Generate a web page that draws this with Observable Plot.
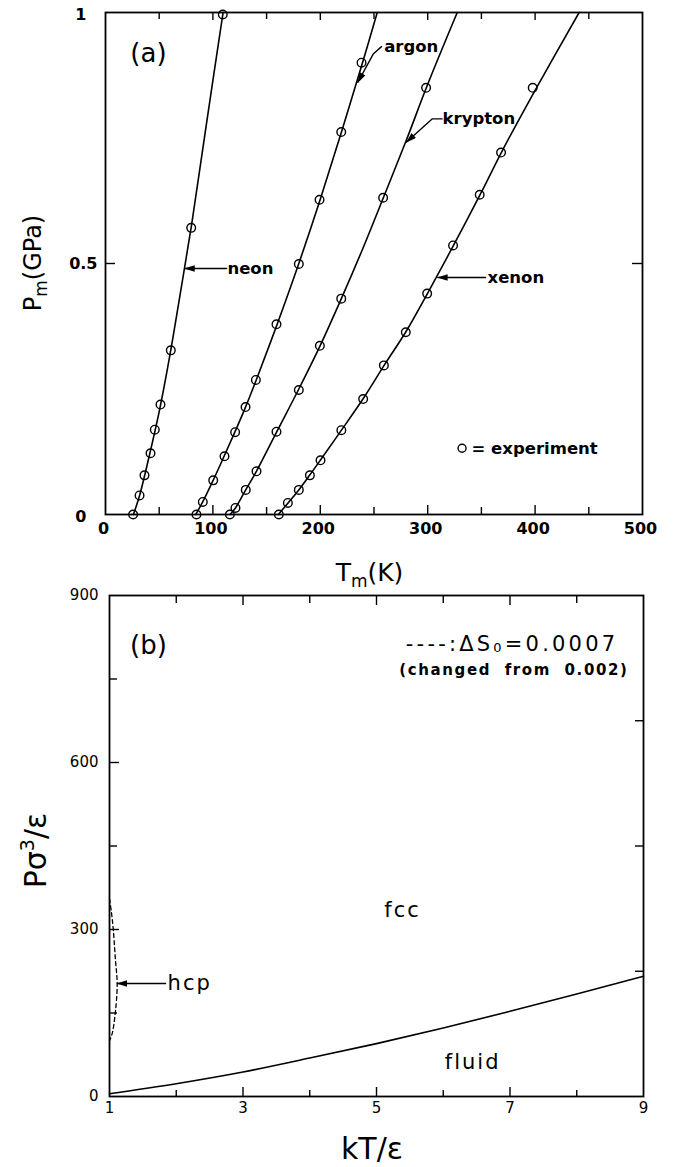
<!DOCTYPE html>
<html><head><meta charset="utf-8">
<script src="https://cdn.jsdelivr.net/npm/d3@7"></script>
<script src="https://cdn.jsdelivr.net/npm/@observablehq/plot@0.6"></script>
<style>
body{margin:0;background:#fff;}
#chart svg{display:block;}
</style></head><body><div id="chart"></div>
<script>
// ---------- Panel (a): melting curves P_m vs T_m ----------
const tTickLabels = [0, 100, 200, 300, 400, 500];
const tTicksMajor = [100, 200, 300, 400];
const tTicksMinor = [50, 150, 250, 350, 450];
const pTickLabelsEdge = [0, 1];
const pTickLabelsMid = [0.5];

// experiment (circles)
const neonExpT = [25.7, 31.7, 36.3, 41.9, 45.9, 51.2, 60.8, 79.8, 109.2];
const neonExpP = [0, 0.038, 0.078, 0.122, 0.169, 0.219, 0.327, 0.571, 0.996];
const argonExpT = [84.7, 90.6, 100.3, 110.8, 120.7, 130.4, 140, 159.2, 180, 199.3, 219.5, 238.4];
const argonExpP = [0, 0.025, 0.068, 0.116, 0.164, 0.214, 0.268, 0.379, 0.499, 0.627, 0.762, 0.900];
const kryptonExpT = [115.8, 121, 130.6, 140.6, 159.2, 180, 199.6, 219.5, 258.5, 298.5];
const kryptonExpP = [0, 0.013, 0.049, 0.086, 0.165, 0.248, 0.336, 0.430, 0.631, 0.850];
const xenonExpT = [161.4, 169.8, 180, 190.3, 200.2, 219.6, 239.9, 259.2, 279.6, 299.5, 323.6, 348.4, 368.3, 397.8];
const xenonExpP = [0, 0.023, 0.049, 0.078, 0.108, 0.168, 0.230, 0.297, 0.363, 0.440, 0.536, 0.637, 0.721, 0.850];

// theory (lines)
const neonLineT = [26, 32, 40, 50, 60, 70, 80, 90, 100, 109.5];
const neonLineP = [0, 0.04, 0.11, 0.205, 0.318, 0.445, 0.575, 0.72, 0.865, 1.0];
const argonLineT = [84, 90, 100, 110, 120, 130, 140, 160, 180, 200, 220, 240, 253];
const argonLineP = [0, 0.023, 0.067, 0.114, 0.162, 0.212, 0.266, 0.38, 0.5, 0.628, 0.764, 0.905, 1.0];
const kryptonLineT = [116, 121, 130, 140, 160, 180, 200, 220, 240, 260, 280, 300, 327.5];
const kryptonLineP = [0, 0.013, 0.047, 0.084, 0.167, 0.25, 0.337, 0.432, 0.532, 0.638, 0.745, 0.857, 1.0];
const xenonLineT = [161, 170, 180, 190, 200, 220, 240, 260, 280, 300, 325, 350, 370, 400, 441];
const xenonLineP = [0, 0.023, 0.049, 0.078, 0.108, 0.169, 0.231, 0.299, 0.365, 0.441, 0.54, 0.642, 0.727, 0.845, 1.0];

// ---------- Panel (b): phase diagram ----------
const kTickLabels = [1, 3, 5, 7, 9];
const kTicksMajor = [3, 5, 7];
const kTicksMinor = [2, 4, 6, 8];
const yTickLabelsB = [0, 300, 600, 900];
const yTicksMajorB = [300, 600];
const yTicksMinorB = [150, 450, 750];
const yTicksRightB = [225, 450, 675];

const fluidKT = [1, 2, 3, 4, 5, 6, 7, 8, 9];
const fluidP = [5, 23, 44, 69, 95, 123, 153, 184, 216];
const hcpKT = [1.0, 1.03, 1.055, 1.09, 1.115, 1.09, 1.04, 1.0];
const hcpP = [355, 330, 302, 244, 203, 154, 113, 100];

// ---------- helpers ----------
const fam = "DejaVu Sans";
const W = 675;
const rows = (name, T, P) => T.map((t, i) => ({name, T: t, P: P[i]}));

const expRows = [
  ...rows("neon", neonExpT, neonExpP), ...rows("argon", argonExpT, argonExpP),
  ...rows("krypton", kryptonExpT, kryptonExpP), ...rows("xenon", xenonExpT, xenonExpP)];
const lineRows = [
  ...rows("neon", neonLineT, neonLineP), ...rows("argon", argonLineT, argonLineP),
  ...rows("krypton", kryptonLineT, kryptonLineP), ...rows("xenon", xenonLineT, xenonLineP)];

// annotation arrows (data coordinates)
const arrowRowsA = [
  ...rows("neon", [112.7, 74], [0.49, 0.49]),
  ...rows("argon", [257, 249.5, 235], [0.932, 0.918, 0.861]),
  ...rows("krypton", [313.4, 304.1, 280.3], [0.788, 0.788, 0.742]),
  ...rows("xenon", [353.8, 309.5], [0.472, 0.472])];
const labelRowsA = [
  {name: "neon", T: 113.5, P: 0.49},
  {name: "argon", T: 259.5, P: 0.932},
  {name: "krypton", T: 313.8, P: 0.788},
  {name: "xenon", T: 355.7, P: 0.472}];

// ---------- Plot (a) ----------
const hA = 580, mtA = 12, mbA = 66, mlA = 105, mrA = 33;
const ihA = hA - mtA - mbA, iwA = W - mlA - mrA;
const plotA = Plot.plot({
  width: W, height: hA, marginTop: mtA, marginBottom: mbA, marginLeft: mlA, marginRight: mrA,
  x: {domain: [0, 500], axis: null},
  y: {domain: [0, 1], axis: null},
  style: {fontFamily: fam, background: "white", color: "black", overflow: "visible"},
  marks: [
    Plot.ruleX(tTicksMajor, {insetTop: ihA - 9, strokeWidth: 1.4}),
    Plot.ruleX(tTicksMinor, {insetTop: ihA - 7, strokeWidth: 1.4}),
    Plot.ruleX(tTicksMajor, {insetBottom: ihA - 8, strokeWidth: 1.4}),
    Plot.ruleX(tTicksMinor, {insetBottom: ihA - 7, strokeWidth: 1.4}),
    Plot.ruleY(pTickLabelsMid, {insetRight: iwA - 10, strokeWidth: 1.4}),
    Plot.ruleY(pTickLabelsMid, {insetLeft: iwA - 10, strokeWidth: 1.4}),
    Plot.line(lineRows, {x: "T", y: "P", z: "name", curve: "catmull-rom", stroke: "black", strokeWidth: 1.6}),
    Plot.dot(expRows, {x: "T", y: "P", r: 4.3, stroke: "black", strokeWidth: 1.4, fill: "none"}),
    Plot.line(arrowRowsA, {x: "T", y: "P", z: "name", stroke: "black", strokeWidth: 1.4, ariaDescription: "arrow"}),
    Plot.text(labelRowsA, {x: "T", y: "P", text: "name", textAnchor: "start", fontSize: 16.5, fontWeight: "bold"}),
    Plot.text(["(a)"], {x: 40, y: 0.918, text: d => d, fontSize: 26}),
    Plot.dot([{T: 332, P: 0.132}], {x: "T", y: "P", r: 4, stroke: "black", strokeWidth: 1.4, fill: "none"}),
    Plot.text(["= experiment"], {x: 340.8, y: 0.132, text: d => d, textAnchor: "start", fontSize: 16.5, fontWeight: "bold"}),
    Plot.text(tTickLabels, {x: d => d, text: d => String(d), frameAnchor: "bottom", dy: 19, dx: -2, fontSize: 16, fontWeight: "bold"}),
    Plot.text(pTickLabelsEdge, {y: d => d, text: d => String(d), frameAnchor: "left", textAnchor: "end", dx: -19, dy: 2, fontSize: 16, fontWeight: "bold"}),
    Plot.text(pTickLabelsMid, {y: d => d, text: d => String(d), frameAnchor: "left", textAnchor: "end", dx: -8, fontSize: 16, fontWeight: "bold"}),
    Plot.frame({stroke: "black", strokeWidth: 1.8})
  ]
});

// ---------- Plot (b) ----------
const hB = 587, mtB = 15, mbB = 71, mlB = 109, mrB = 32;
const ihB = hB - mtB - mbB, iwB = W - mlB - mrB;
const plotB = Plot.plot({
  width: W, height: hB, marginTop: mtB, marginBottom: mbB, marginLeft: mlB, marginRight: mrB,
  x: {domain: [1, 9], axis: null},
  y: {domain: [0, 900], axis: null},
  style: {fontFamily: fam, background: "white", color: "black", overflow: "visible"},
  marks: [
    Plot.ruleX(kTicksMajor, {insetTop: ihB - 9, strokeWidth: 1.4}),
    Plot.ruleX(kTicksMinor, {insetTop: ihB - 6, strokeWidth: 1.4}),
    Plot.ruleX(kTicksMajor, {insetBottom: ihB - 10, strokeWidth: 1.4}),
    Plot.ruleX(kTicksMinor, {insetBottom: ihB - 8, strokeWidth: 1.4}),
    Plot.ruleY(yTicksMajorB, {insetRight: iwB - 10, strokeWidth: 1.4}),
    Plot.ruleY(yTicksMinorB, {insetRight: iwB - 8, strokeWidth: 1.4}),
    Plot.ruleY(yTicksRightB, {insetLeft: iwB - 8, strokeWidth: 1.4}),
    Plot.line(rows("fluid", fluidKT, fluidP), {x: "T", y: "P", curve: "catmull-rom", stroke: "black", strokeWidth: 1.6}),
    Plot.line(rows("hcp", hcpKT, hcpP), {x: "T", y: "P", curve: "catmull-rom", stroke: "black", strokeWidth: 1.3, strokeDasharray: "4,3"}),
    Plot.line(rows("hcp", [1.84, 1.12], [203, 203]), {x: "T", y: "P", stroke: "black", strokeWidth: 1.4, ariaDescription: "arrow"}),
    Plot.text(["hcp"], {x: 1.87, y: 203, text: d => d, textAnchor: "start", fontSize: 21, ariaDescription: "spaced"}),
    Plot.text(["fcc"], {x: 5.39, y: 334, text: d => d, fontSize: 21, ariaDescription: "spaced"}),
    Plot.text(["fluid"], {x: 6.44, y: 61, text: d => d, fontSize: 21, ariaDescription: "spaced"}),
    Plot.text(["(b)"], {x: 1.584, y: 810, text: d => d, fontSize: 26}),
    Plot.text(["(changed  from  0.002)"], {x: 8.775, y: 765, text: d => d, textAnchor: "end", fontSize: 15, fontWeight: "bold", ariaDescription: "spaced-small"}),
    Plot.text(kTickLabels, {x: d => d, text: d => String(d), frameAnchor: "bottom", dy: 16, fontSize: 15}),
    Plot.text(yTickLabelsB, {y: d => d, text: d => String(d), frameAnchor: "left", textAnchor: "end", dx: -11, fontSize: 15}),
    Plot.frame({stroke: "black", strokeWidth: 1.8})
  ]
});

// ---------- post-processing: arrowheads, spacing, axis titles ----------
function addArrowheads(svg, id) {
  const s = d3.select(svg);
  const defs = s.insert("defs", ":first-child");
  defs.append("marker").attr("id", id).attr("viewBox", "0 0 10 6").attr("refX", 9).attr("refY", 3)
    .attr("markerWidth", 11).attr("markerHeight", 6.5).attr("markerUnits", "userSpaceOnUse").attr("orient", "auto")
    .append("path").attr("d", "M0,0L10,3L0,6Z").attr("fill", "black");
  s.selectAll('g[aria-description="arrow"] path').attr("marker-end", `url(#${id})`);
}
addArrowheads(plotA, "ahA");
addArrowheads(plotB, "ahB");
d3.select(plotB).selectAll('g[aria-description="spaced"] text').style("letter-spacing", "2px");
d3.select(plotB).selectAll('g[aria-description="spaced-small"] text').style("letter-spacing", "1.6px").style("white-space", "pre");

const xA = plotA.scale("x"), yA = plotA.scale("y");
const xB = plotB.scale("x"), yB = plotB.scale("y");
const sA = d3.select(plotA), sB = d3.select(plotB);

// y title (a)
const tyA = sA.append("text").attr("font-family", fam).attr("font-size", 24).attr("text-anchor", "middle")
  .attr("transform", `translate(33,${(yA.apply(0) + yA.apply(1)) / 2}) rotate(-90)`).attr("dy", "0.35em");
tyA.append("tspan").text("P");
tyA.append("tspan").attr("font-size", 17).attr("dy", 6).text("m");
tyA.append("tspan").attr("dy", -6).text("(GPa)");

// x title (a)
const txA = sA.append("text").attr("font-family", fam).attr("font-size", 25).attr("text-anchor", "middle")
  .attr("x", (xA.apply(0) + xA.apply(500)) / 2 - 4).attr("y", 581);
txA.append("tspan").text("T");
txA.append("tspan").attr("font-size", 17).attr("dy", 6).text("m");
txA.append("tspan").attr("dy", -6).text("(K)");

// y title (b)
const tyB = sB.append("text").attr("font-family", fam).attr("font-size", 30).attr("text-anchor", "middle")
  .attr("transform", `translate(35,${(yB.apply(0) + yB.apply(900)) / 2 + 5}) rotate(-90)`).attr("dy", "0.35em");
tyB.append("tspan").text("Pσ");
tyB.append("tspan").attr("font-size", 19).attr("dy", -12).text("3");
tyB.append("tspan").attr("dy", 12).text("/ε");

// x title (b)
sB.append("text").attr("font-family", fam).attr("font-size", 30).attr("text-anchor", "middle")
  .attr("x", (xB.apply(1) + xB.apply(9)) / 2 - 4).attr("y", 579).text("kT/ε");

// ΔS0 annotation (b)
const tdS = sB.append("text").attr("font-family", fam).attr("font-size", 21).attr("text-anchor", "end")
  .style("letter-spacing", "3.2px")
  .attr("x", xB.apply(8.63)).attr("y", yB.apply(812)).attr("dy", "0.35em");
tdS.append("tspan").text("----:ΔS");
tdS.append("tspan").attr("font-size", 13).attr("dy", 1).text("0");
tdS.append("tspan").attr("dy", -1).text("=0.0007");

document.getElementById("chart").append(plotA, plotB);
</script></body></html>
